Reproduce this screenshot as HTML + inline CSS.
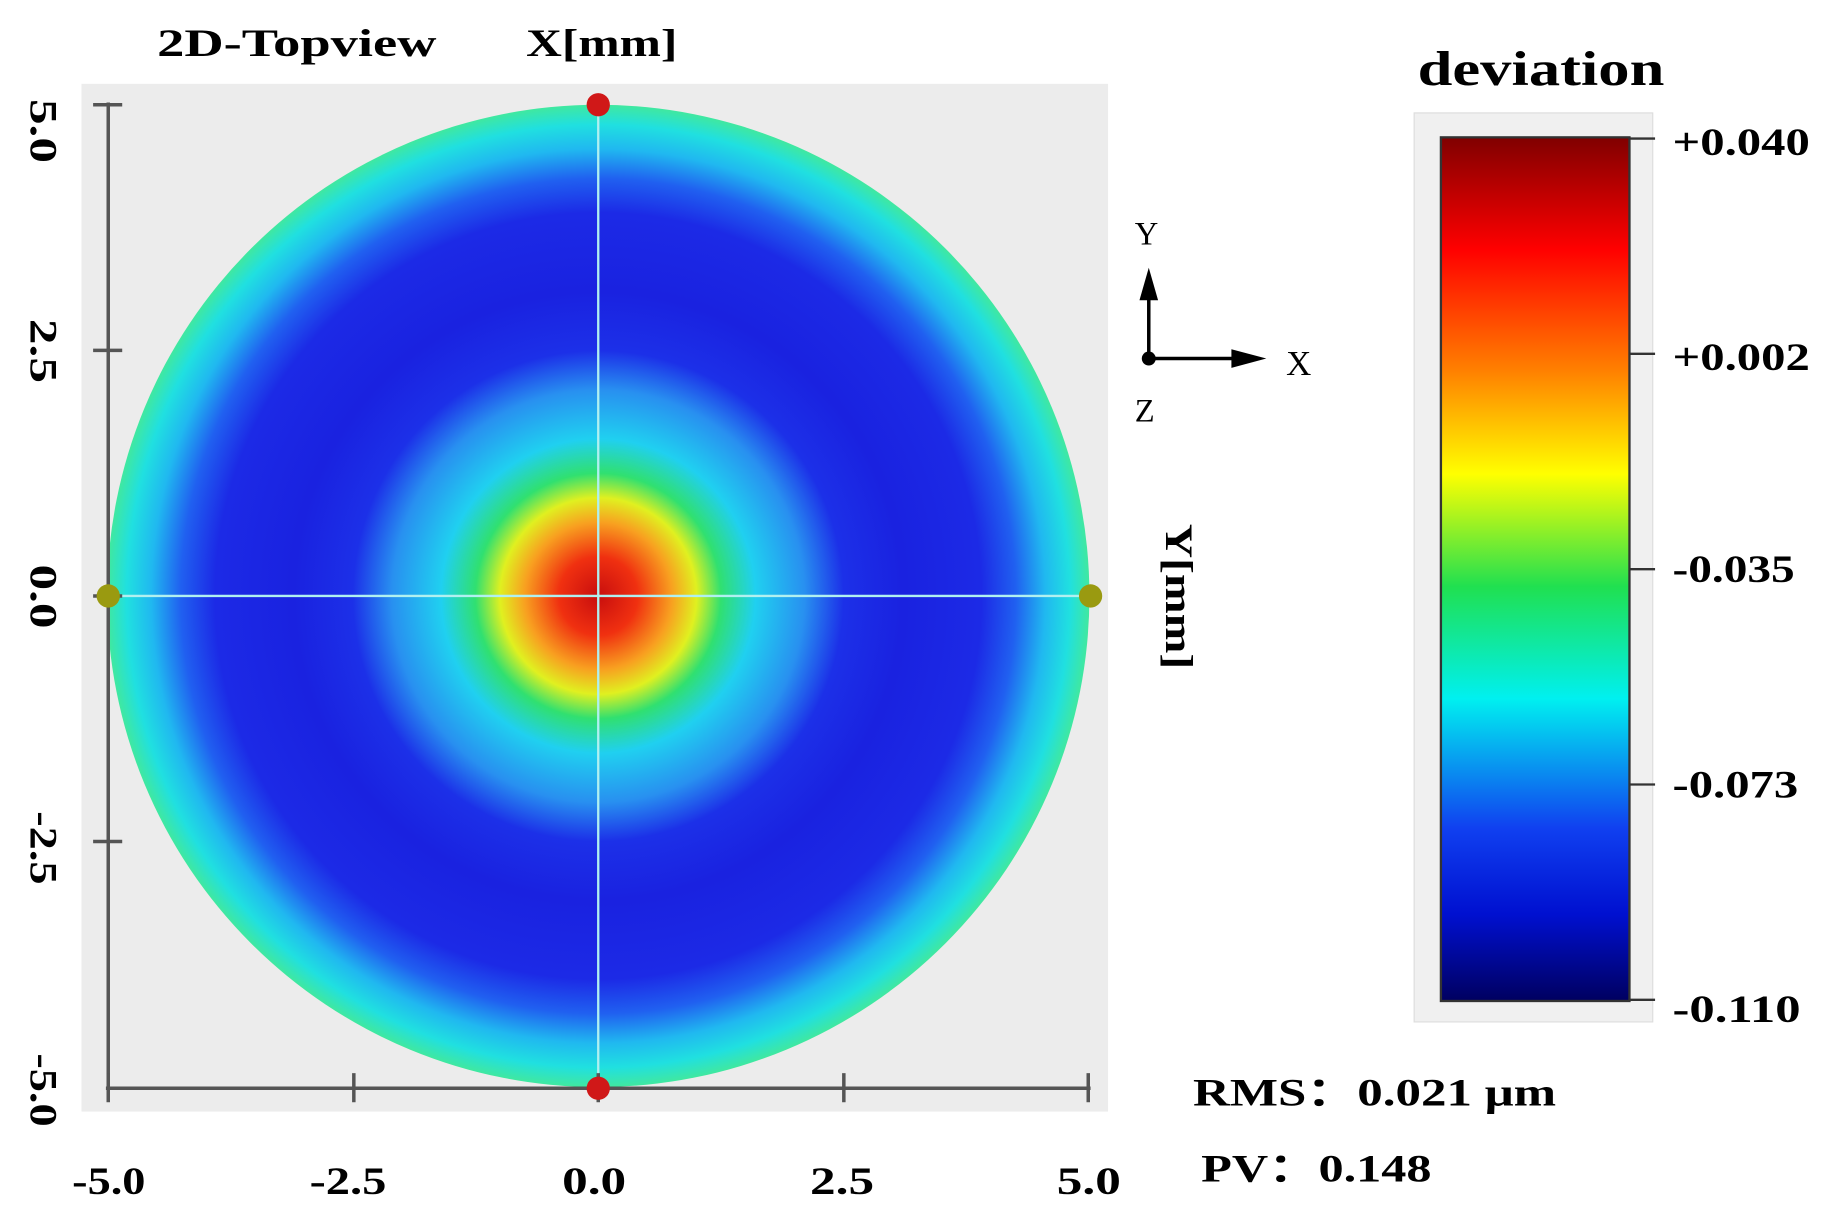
<!DOCTYPE html>
<html><head><meta charset="utf-8"><style>html,body{margin:0;padding:0;background:#fff;}svg{display:block}</style></head>
<body>
<svg width="1825" height="1214" viewBox="0 0 1568 1043" xmlns="http://www.w3.org/2000/svg" font-family="Liberation Serif, serif" font-weight="bold">
<defs>
<radialGradient id="rg" cx="514" cy="512" r="422" gradientUnits="userSpaceOnUse">
<stop offset="0" stop-color="#c80e0e"/>
<stop offset="0.08" stop-color="#f03010"/>
<stop offset="0.15" stop-color="#f8a020"/>
<stop offset="0.2" stop-color="#e0f020"/>
<stop offset="0.25" stop-color="#30e070"/>
<stop offset="0.32" stop-color="#20d0f0"/>
<stop offset="0.42" stop-color="#2890f0"/>
<stop offset="0.5" stop-color="#1c30e8"/>
<stop offset="0.62" stop-color="#1a22e0"/>
<stop offset="0.78" stop-color="#1c2ae6"/>
<stop offset="0.85" stop-color="#2060f0"/>
<stop offset="0.91" stop-color="#20b8f0"/>
<stop offset="0.96" stop-color="#20e0e0"/>
<stop offset="1" stop-color="#40e8a0"/>
</radialGradient>
<linearGradient id="cb" x1="0" y1="0" x2="0" y2="1">
<stop offset="0" stop-color="#800000"/>
<stop offset="0.13" stop-color="#ff0000"/>
<stop offset="0.27" stop-color="#ff8000"/>
<stop offset="0.39" stop-color="#ffff00"/>
<stop offset="0.52" stop-color="#20e050"/>
<stop offset="0.65" stop-color="#00f0f0"/>
<stop offset="0.8" stop-color="#1040f0"/>
<stop offset="0.9" stop-color="#0010d0"/>
<stop offset="1" stop-color="#000060"/>
</linearGradient>
</defs>
<rect x="70" y="72" width="882" height="883" fill="#ececec"/>
<circle cx="514" cy="512" r="422" fill="url(#rg)"/>
<line x1="93" y1="512" x2="937" y2="512" stroke="#b0f0f0" stroke-width="2"/>
<line x1="514" y1="90" x2="514" y2="935" stroke="#b0f0f0" stroke-width="2"/>
<g stroke="#555" stroke-width="3">
<line x1="93" y1="88" x2="93" y2="937"/>
<line x1="91" y1="935" x2="937" y2="935"/>
<line x1="80" y1="90" x2="105" y2="90"/><line x1="80" y1="301" x2="105" y2="301"/><line x1="80" y1="512" x2="105" y2="512"/><line x1="80" y1="723" x2="105" y2="723"/>
<line x1="304" y1="922" x2="304" y2="947"/><line x1="514" y1="922" x2="514" y2="947"/><line x1="725" y1="922" x2="725" y2="947"/><line x1="935" y1="922" x2="935" y2="947"/><line x1="93" y1="922" x2="93" y2="947"/>
</g>
<circle cx="514" cy="90" r="10" fill="#d01818"/>
<circle cx="514" cy="935" r="10" fill="#d01818"/>
<circle cx="93" cy="512" r="10" fill="#9a9a10"/>
<circle cx="937" cy="512" r="10" fill="#9a9a10"/>
<g font-size="34">
<text x="135" y="48" textLength="240" lengthAdjust="spacingAndGlyphs">2D-Topview</text>
<text x="452" y="48" textLength="130" lengthAdjust="spacingAndGlyphs">X[mm]</text>
<text x="62" y="1026" textLength="63" lengthAdjust="spacingAndGlyphs">-5.0</text>
<text x="266" y="1026" textLength="66" lengthAdjust="spacingAndGlyphs">-2.5</text>
<text x="483" y="1026" textLength="55" lengthAdjust="spacingAndGlyphs">0.0</text>
<text x="696" y="1026" textLength="55" lengthAdjust="spacingAndGlyphs">2.5</text>
<text x="908" y="1026" textLength="55" lengthAdjust="spacingAndGlyphs">5.0</text>
<text transform="translate(26,85) rotate(90)" textLength="55" lengthAdjust="spacingAndGlyphs">5.0</text>
<text transform="translate(26,274) rotate(90)" textLength="55" lengthAdjust="spacingAndGlyphs">2.5</text>
<text transform="translate(26,485) rotate(90)" textLength="55" lengthAdjust="spacingAndGlyphs">0.0</text>
<text transform="translate(26,697) rotate(90)" textLength="63" lengthAdjust="spacingAndGlyphs">-2.5</text>
<text transform="translate(26,905) rotate(90)" textLength="63" lengthAdjust="spacingAndGlyphs">-5.0</text>
<text transform="translate(1002,450) rotate(90)" textLength="125" lengthAdjust="spacingAndGlyphs">Y[mm]</text>
<text x="975" y="210" font-size="28" font-weight="normal">Y</text>
<text x="975" y="362" font-size="28" font-weight="normal">Z</text>
<text x="1105" y="322" font-size="30" font-weight="normal">X</text>
</g>
<line x1="987" y1="308" x2="987" y2="245" stroke="#000" stroke-width="3"/>
<polygon points="987,230 979,258 995,258" fill="#000"/>
<line x1="987" y1="308" x2="1060" y2="308" stroke="#000" stroke-width="3"/>
<polygon points="1088,308 1058,300 1058,316" fill="#000"/>
<circle cx="987" cy="308" r="6" fill="#000"/>
<text x="1218" y="73" font-size="42" textLength="212" lengthAdjust="spacingAndGlyphs">deviation</text>
<rect x="1215" y="97" width="205" height="781" fill="#f0f0f0" stroke="#ddd"/>
<rect x="1238" y="118" width="162" height="742" fill="url(#cb)" stroke="#333" stroke-width="2"/>
<g stroke="#333" stroke-width="2">
<line x1="1400" y1="119" x2="1422" y2="119"/><line x1="1400" y1="304" x2="1422" y2="304"/><line x1="1400" y1="489" x2="1422" y2="489"/><line x1="1400" y1="674" x2="1422" y2="674"/><line x1="1400" y1="859" x2="1422" y2="859"/>
</g>
<g font-size="34">
<text x="1437" y="133" textLength="118" lengthAdjust="spacingAndGlyphs">+0.040</text>
<text x="1437" y="318" textLength="118" lengthAdjust="spacingAndGlyphs">+0.002</text>
<text x="1437" y="500" textLength="105" lengthAdjust="spacingAndGlyphs">-0.035</text>
<text x="1437" y="685" textLength="108" lengthAdjust="spacingAndGlyphs">-0.073</text>
<text x="1437" y="878" textLength="110" lengthAdjust="spacingAndGlyphs">-0.110</text>
<text x="1025" y="950" textLength="312" lengthAdjust="spacingAndGlyphs">RMS：0.021 μm</text>
<text x="1032" y="1015" textLength="198" lengthAdjust="spacingAndGlyphs">PV：0.148</text>
</g>
</svg>
</body></html>
